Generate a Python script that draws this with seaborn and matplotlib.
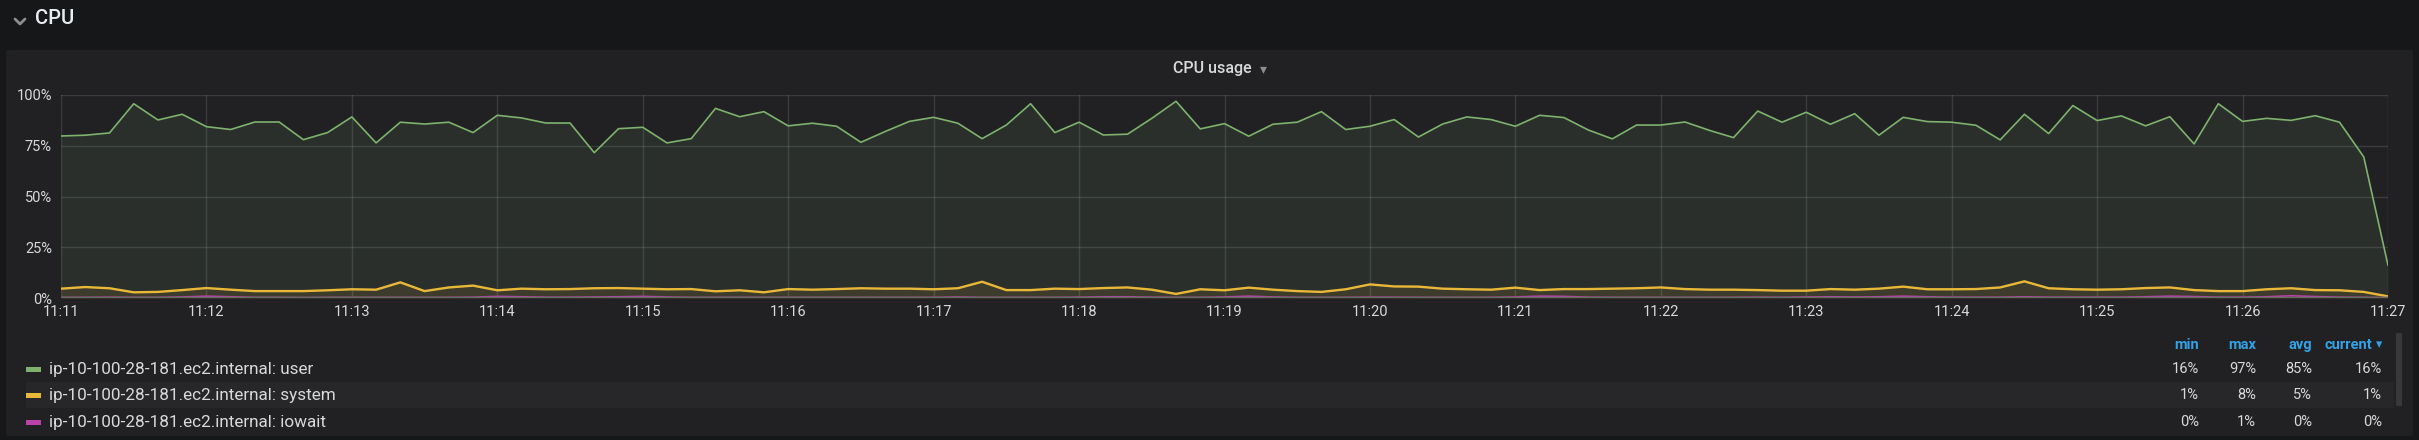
import matplotlib
matplotlib.use("Agg")
import matplotlib.dates as mdates
import matplotlib.pyplot as plt
import pandas as pd
import seaborn as sns
from matplotlib.lines import Line2D
from matplotlib.patches import FancyBboxPatch, Rectangle

# CPU usage samples every 10 s from 11:11:00 to 11:27:00 (percent)
user = [79.8, 80.2, 81.3, 95.7, 87.7, 90.5, 84.4, 83.0, 86.7, 86.7, 78.0, 81.5,
        89.2, 76.4, 86.6, 85.7, 86.6, 81.5, 90.0, 88.7, 86.2, 86.2, 71.6, 83.4,
        84.1, 76.4, 78.5, 93.4, 89.3, 91.8, 84.8, 86.1, 84.6, 76.7, 82.0, 87.0,
        89.0, 86.1, 78.5, 85.2, 95.7, 81.5, 86.6, 80.3, 80.7, 88.5, 96.9, 83.3,
        85.9, 79.7, 85.6, 86.6, 91.8, 83.0, 84.6, 87.9, 79.3, 85.7, 89.2, 87.9,
        84.6, 90.0, 88.9, 82.8, 78.4, 85.2, 85.2, 86.7, 82.6, 79.0, 92.1, 86.6,
        91.5, 85.6, 90.8, 80.2, 89.0, 86.9, 86.6, 85.1, 77.9, 90.5, 81.0, 94.8,
        87.4, 89.7, 84.8, 89.3, 75.9, 95.7, 87.0, 88.5, 87.5, 89.8, 86.6, 69.5,
        16.1]
system = [4.6, 5.4, 4.8, 2.8, 3.0, 3.9, 4.9, 4.1, 3.4, 3.4, 3.4, 3.8,
          4.3, 4.1, 7.7, 3.4, 5.2, 6.1, 3.8, 4.6, 4.3, 4.4, 4.8, 4.9,
          4.6, 4.3, 4.4, 3.3, 3.8, 2.8, 4.4, 4.1, 4.4, 4.8, 4.6, 4.6,
          4.3, 4.8, 8.0, 3.9, 3.9, 4.6, 4.4, 4.9, 5.2, 4.1, 2.0, 4.3,
          3.8, 5.1, 4.1, 3.4, 3.0, 4.3, 6.7, 5.7, 5.6, 4.6, 4.3, 4.1,
          5.1, 3.9, 4.4, 4.4, 4.6, 4.8, 5.2, 4.4, 4.1, 4.1, 3.9, 3.6,
          3.6, 4.4, 4.1, 4.6, 5.6, 4.3, 4.3, 4.4, 5.2, 8.2, 4.8, 4.3,
          4.1, 4.3, 4.9, 5.2, 3.9, 3.4, 3.4, 4.3, 4.8, 3.9, 3.8, 3.0,
          0.8]
iowait = [0.3, 0.3, 0.4, 0.3, 0.3, 0.5, 0.9, 0.6, 0.3, 0.3, 0.2, 0.3,
          0.3, 0.3, 0.3, 0.3, 0.3, 0.4, 0.8, 0.6, 0.4, 0.4, 0.5, 0.6,
          0.8, 0.5, 0.3, 0.3, 0.3, 0.3, 0.3, 0.3, 0.3, 0.3, 0.3, 0.3,
          0.3, 0.5, 0.3, 0.3, 0.3, 0.3, 0.4, 0.6, 0.6, 0.4, 0.3, 0.3,
          0.5, 0.9, 0.5, 0.3, 0.3, 0.3, 0.4, 0.4, 0.3, 0.3, 0.3, 0.3,
          0.5, 0.9, 0.8, 0.4, 0.3, 0.3, 0.3, 0.3, 0.3, 0.3, 0.4, 0.3,
          0.5, 0.6, 0.5, 0.6, 0.9, 0.6, 0.4, 0.4, 0.4, 0.6, 0.4, 0.4,
          0.4, 0.4, 0.6, 0.9, 0.7, 0.4, 0.4, 0.6, 1.1, 0.7, 0.4, 0.3,
          0.2]

series_names = ["ip-10-100-28-181.ec2.internal: user",
                "ip-10-100-28-181.ec2.internal: system",
                "ip-10-100-28-181.ec2.internal: iowait"]
series_colors = ["#7eb26d", "#eab839", "#ba43a9"]
y_ticks = [0, 25, 50, 75, 100]

# legend table as shown by the dashboard
stat_headers = ["min", "max", "avg", "current"]
stat_values = [["16%", "97%", "85%", "16%"],
               ["1%", "8%", "5%", "1%"],
               ["0%", "1%", "0%", "0%"]]

W, H = 2419, 440


def fx(px):
    return px / W


def fy(py):
    return 1 - py / H


def main():
    times = pd.date_range("2020-01-01 11:11:00", periods=len(user), freq="10s")
    df = pd.concat([
        pd.DataFrame({"time": times, "value": vals, "series": name})
        for name, vals in zip(series_names, [user, system, iowait])
    ])

    sns.set_style("dark")
    plt.rcParams["font.family"] = ["Roboto", "DejaVu Sans"]

    fig = plt.figure(figsize=(W / 100, H / 100), dpi=100, facecolor="#161719")

    # panel background
    fig.patches.append(FancyBboxPatch((fx(6), fy(436)), fx(2407), (436 - 50) / H,
                                      boxstyle="round,pad=0,rounding_size=0.002",
                                      transform=fig.transFigure, facecolor="#212124",
                                      edgecolor="none", zorder=-5))
    # row title with chevron
    fig.lines.append(Line2D([fx(15), fx(20), fx(25)], [fy(19), fy(24), fy(19)],
                            transform=fig.transFigure, color="#8e8e8e", lw=2))
    fig.text(fx(35), fy(18), "CPU", color="#e9edf2", fontsize=14.5,
             fontweight="medium", va="center", ha="left")
    fig.text(fx(1212), fy(68), "CPU usage", color="#d8d9da", fontsize=11.5,
             fontweight="medium", va="center", ha="center")
    fig.text(fx(1263), fy(69), "▾", color="#8e8e8e", fontsize=10,
             va="center", ha="center", family=["DejaVu Sans"])

    ax = fig.add_axes([fx(61), fy(298), fx(2388 - 61), (298 - 95) / H])
    ax.set_facecolor("#212124")
    ax.set_zorder(2)

    sns.lineplot(data=df, x="time", y="value", hue="series", palette=series_colors,
                 hue_order=series_names, ax=ax, legend=False, linewidth=1.2,
                 estimator=None, sort=True)
    ax.lines[1].set_linewidth(1.7)
    ax.fill_between(times, user, color=series_colors[0], alpha=0.1, lw=0)
    ax.fill_between(times, system, color=series_colors[1], alpha=0.1, lw=0)
    ax.fill_between(times, iowait, color=series_colors[2], alpha=0.1, lw=0)
    ax.axhline(0, color="#606c5c", lw=2.5, zorder=5)

    ax.set_xlim(times[0], times[-1])
    ax.set_ylim(0, 100)
    ax.set_yticks(y_ticks)
    ax.yaxis.set_major_formatter(matplotlib.ticker.FuncFormatter(lambda v, p: f"{v:.0f}%"))
    ax.xaxis.set_major_locator(mdates.MinuteLocator())
    ax.xaxis.set_major_formatter(mdates.DateFormatter("%H:%M"))
    ax.grid(True, color="#ffffff", alpha=0.12, lw=1)
    ax.set_axisbelow(True)
    for s in ax.spines.values():
        s.set_visible(False)
    ax.tick_params(axis="both", length=0, colors="#d8d9da", labelsize=10.5)
    ax.tick_params(axis="x", pad=5)
    ax.tick_params(axis="y", pad=6.5)
    ax.set_xlabel("")
    ax.set_ylabel("")

    # legend table
    fig.patches.append(Rectangle((fx(26), fy(408)), fx(2394 - 26), 26 / H,
                                 transform=fig.transFigure, facecolor="#27272a",
                                 edgecolor="none", zorder=-4))
    col_right = [2199, 2256, 2312, 2382]
    for i, h in enumerate(stat_headers):
        x = col_right[i] - (10 if h == "current" else 0)
        fig.text(fx(x), fy(345), h, color="#33a2e5", fontsize=10.5,
                 fontweight="bold", ha="right", va="center")
    fig.text(fx(2379), fy(345), "▾", color="#33a2e5", fontsize=9,
             ha="center", va="center", family=["DejaVu Sans"])
    row_y = [369, 395, 422]
    for name, color, vals, y in zip(series_names, series_colors, stat_values, row_y):
        fig.patches.append(Rectangle((fx(26), fy(y + 2.5)), fx(15), 5 / H,
                                     transform=fig.transFigure, facecolor=color,
                                     edgecolor="none", zorder=1))
        fig.text(fx(49), fy(y), name, color="#d8d9da", fontsize=12.3,
                 ha="left", va="center")
        for v, xr in zip(vals, col_right):
            fig.text(fx(xr), fy(y), v, color="#d8d9da", fontsize=10.5,
                     ha="right", va="center")

    # scrollbar
    fig.patches.append(FancyBboxPatch((fx(2396), fy(406)), fx(6), 73 / H,
                                      boxstyle="round,pad=0,rounding_size=0.001",
                                      transform=fig.transFigure, facecolor="#37383b",
                                      edgecolor="none", zorder=1))

    fig.savefig("out.png", dpi=100, facecolor=fig.get_facecolor())


if __name__ == "__main__":
    main()
